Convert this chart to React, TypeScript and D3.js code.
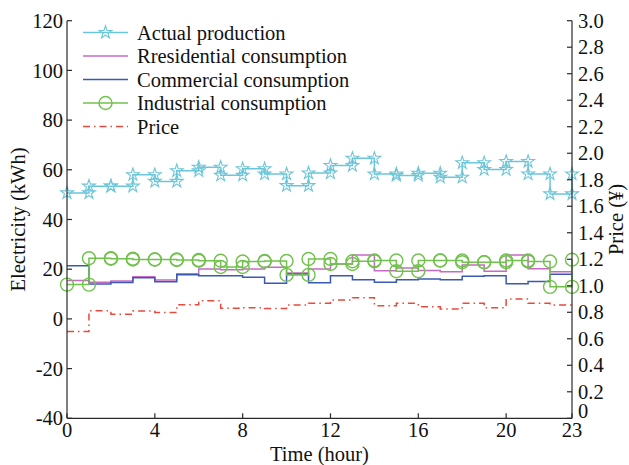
import React from "react";
import * as d3 from "d3";

// Hourly series, hour 0 … 23
const hours = [0, 1, 2, 3, 4, 5, 6, 7, 8, 9, 10, 11, 12, 13, 14, 15, 16, 17, 18, 19, 20, 21, 22, 23];
const actualProduction = [50.7, 53.4, 53.4, 58.0, 55.3, 59.6, 61.0, 57.8, 60.4, 58.3, 53.6, 58.7, 61.7, 64.6, 58.3, 57.7, 58.6, 57.0, 62.8, 60.1, 63.3, 58.3, 50.3, 58.3];
const residential = [15.5, 14.7, 15.3, 17.0, 15.7, 18.2, 20.1, 19.8, 20.1, 20.8, 18.5, 20.1, 22.1, 25.7, 19.4, 20.5, 19.5, 19.0, 21.7, 19.2, 25.7, 20.2, 19.0, 19.0];
const commercial = [21.4, 14.0, 14.6, 16.6, 15.0, 17.8, 17.4, 17.4, 16.8, 14.3, 18.1, 14.5, 17.4, 15.8, 14.7, 15.8, 16.1, 15.8, 17.2, 17.4, 14.1, 15.1, 18.0, 18.0];
const industrial = [13.8, 24.4, 24.2, 23.9, 23.9, 23.7, 23.4, 20.9, 23.1, 23.3, 17.7, 24.1, 22.1, 23.2, 23.5, 19.2, 23.5, 23.5, 22.8, 22.8, 23.5, 23.1, 12.9, 23.8];
const price = [0.654, 0.812, 0.785, 0.81, 0.798, 0.857, 0.887, 0.83, 0.835, 0.828, 0.855, 0.868, 0.893, 0.91, 0.85, 0.868, 0.842, 0.825, 0.868, 0.835, 0.9, 0.868, 0.855, 0.855];

const leftTicks = [-40, -20, 0, 20, 40, 60, 80, 100, 120];
const rightTicks = [0, 0.2, 0.4, 0.6, 0.8, 1.0, 1.2, 1.4, 1.6, 1.8, 2.0, 2.2, 2.4, 2.6, 2.8, 3.0];
const xTicks = [0, 4, 8, 12, 16, 20, 23];

const W = 629;
const H = 465;
const plot = { left: 67, right: 572, top: 20.7, bottom: 418.3 };

const FONT = "'Liberation Serif', 'Times New Roman', serif";
const FS = 20.5;

const C_ACTUAL = "#6cc6d9";
const C_RES = "#c46cc2";
const C_COM = "#3a59b5";
const C_IND = "#70c24c";
const C_PRICE = "#e84a3c";
const AXIS = "#2a2a2a";

export default function App() {
  const x = d3.scaleLinear().domain([0, 23]).range([plot.left, plot.right]);
  const y = d3.scaleLinear().domain([-40, 120]).range([plot.bottom, plot.top]);
  const yp = d3.scaleLinear().domain([0, 3]).range([plot.bottom, plot.top]);

  const stair = (vals: number[], sc: d3.ScaleLinear<number, number>) =>
    d3
      .line<number>()
      .x((_, i) => x(hours[i]))
      .y((v) => sc(v))
      .curve(d3.curveStepAfter)(vals) as string;

  // vertices of a step-after line: every corner gets a marker
  const vertices = (vals: number[]) => {
    const pts: [number, number][] = [];
    vals.forEach((v, i) => {
      if (i > 0) pts.push([hours[i], vals[i - 1]]);
      pts.push([hours[i], v]);
    });
    return pts;
  };

  const star = d3.symbol().type(d3.symbolStar).size(50)() as string;

  const legend = [
    { label: "Actual production", color: C_ACTUAL, marker: "star", dash: undefined },
    { label: "Rresidential consumption", color: C_RES, marker: "none", dash: undefined },
    { label: "Commercial consumption", color: C_COM, marker: "none", dash: undefined },
    { label: "Industrial consumption", color: C_IND, marker: "circle", dash: undefined },
    { label: "Price", color: C_PRICE, marker: "none", dash: "7,4,1.5,4" },
  ];

  return (
    <svg
      width={W}
      height={H}
      style={{ position: "absolute", left: 0, top: 0, background: "#fff" }}
      fontFamily={FONT}
      fontSize={FS}
    >
      {/* series */}
      <path d={stair(price, yp)} fill="none" stroke={C_PRICE} strokeWidth={1.5} strokeDasharray="7,4,1.5,4" />
      <path d={stair(residential, y)} fill="none" stroke={C_RES} strokeWidth={1.5} />
      <path d={stair(commercial, y)} fill="none" stroke={C_COM} strokeWidth={1.5} />
      <path d={stair(industrial, y)} fill="none" stroke={C_IND} strokeWidth={1.5} />
      {vertices(industrial).map(([h, v], i) => (
        <circle key={"c" + i} cx={x(h)} cy={y(v)} r={6.5} fill="none" stroke={C_IND} strokeWidth={1.4} />
      ))}
      <path d={stair(actualProduction, y)} fill="none" stroke={C_ACTUAL} strokeWidth={1.5} />
      {vertices(actualProduction).map(([h, v], i) => (
        <path
          key={"s" + i}
          d={star}
          transform={`translate(${x(h)},${y(v)})`}
          fill="none"
          stroke={C_ACTUAL}
          strokeWidth={1.1}
        />
      ))}

      {/* axes lines */}
      <line x1={plot.left} x2={plot.left} y1={plot.top} y2={plot.bottom} stroke={AXIS} strokeWidth={1.2} />
      <line x1={plot.right} x2={plot.right} y1={plot.top} y2={plot.bottom} stroke={AXIS} strokeWidth={1.2} />
      <line x1={plot.left} x2={plot.right} y1={plot.bottom} y2={plot.bottom} stroke={AXIS} strokeWidth={1.2} />

      {/* left axis */}
      {leftTicks.map((t) => (
        <g key={"l" + t}>
          <line x1={plot.left} x2={plot.left + 5} y1={y(t)} y2={y(t)} stroke={AXIS} strokeWidth={1.2} />
          <text x={plot.left - 4} y={y(t)} dy="0.35em" textAnchor="end" fill="#111">
            {t}
          </text>
        </g>
      ))}
      {/* right axis */}
      {rightTicks.map((t) => (
        <g key={"r" + t}>
          <line x1={plot.right - 5} x2={plot.right} y1={yp(t)} y2={yp(t)} stroke={AXIS} strokeWidth={1.2} />
          <text x={plot.right + 6} y={yp(t) - (t === 0 ? 7 : 0)} dy="0.35em" textAnchor="start" fill="#111">
            {t === 0 ? "0" : t.toFixed(1)}
          </text>
        </g>
      ))}
      {/* bottom axis */}
      {xTicks.map((t) => (
        <g key={"x" + t}>
          <line x1={x(t)} x2={x(t)} y1={plot.bottom} y2={plot.bottom - 5} stroke={AXIS} strokeWidth={1.2} />
          <text x={x(t)} y={plot.bottom + 12} dy="0.35em" textAnchor="middle" fill="#111">
            {t}
          </text>
        </g>
      ))}

      {/* axis titles */}
      <text x={(plot.left + plot.right) / 2} y={454} dy="0.35em" textAnchor="middle" fill="#111">
        Time (hour)
      </text>
      <text
        transform={`translate(18,${(plot.top + plot.bottom) / 2}) rotate(-90)`}
        dy="0.35em"
        textAnchor="middle"
        fill="#111"
      >
        Electricity (kWh)
      </text>
      <text
        transform={`translate(616,${(plot.top + plot.bottom) / 2}) rotate(-90)`}
        dy="0.35em"
        textAnchor="middle"
        fill="#111"
      >
        Price (¥)
      </text>

      {/* legend */}
      {legend.map((d, i) => {
        const ly = 32.5 + i * 23.5;
        return (
          <g key={"lg" + i}>
            <line x1={83} x2={128} y1={ly} y2={ly} stroke={d.color} strokeWidth={1.5} strokeDasharray={d.dash} />
            {d.marker === "star" && (
              <path d={star} transform={`translate(105.5,${ly})`} fill="none" stroke={d.color} strokeWidth={1.1} />
            )}
            {d.marker === "circle" && <circle cx={105.5} cy={ly} r={6.5} fill="none" stroke={d.color} strokeWidth={1.4} />}
            <text x={137} y={ly} dy="0.35em" fill="#111">
              {d.label}
            </text>
          </g>
        );
      })}
    </svg>
  );
}
